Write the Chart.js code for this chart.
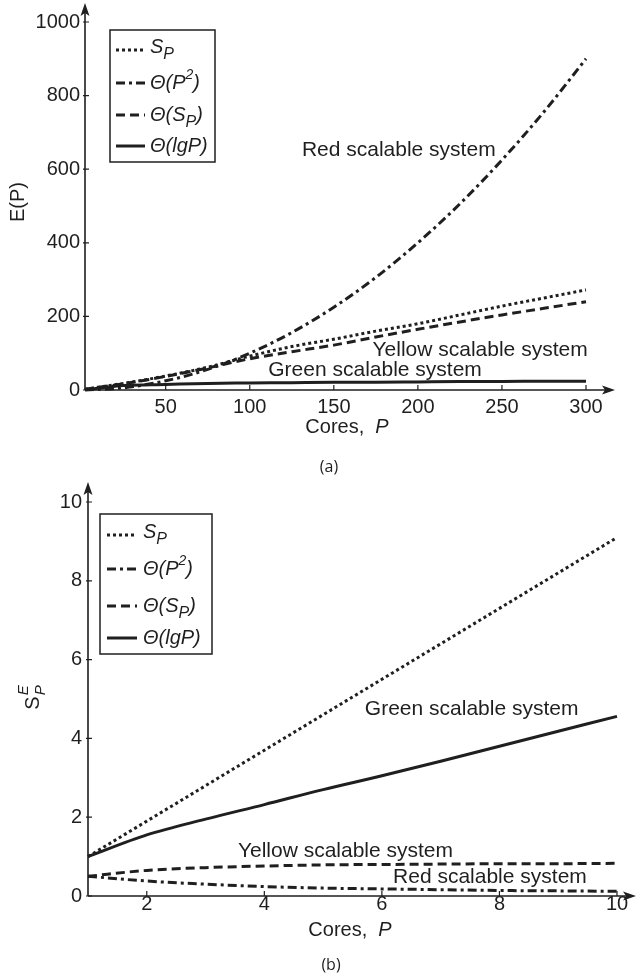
<!DOCTYPE html>
<html><head><meta charset="utf-8">
<script src="https://cdn.jsdelivr.net/npm/chart.js@4.4.1/dist/chart.umd.min.js"></script>
<style>
html,body{margin:0;padding:0;background:#fff;}
#wrap{position:relative;width:637px;height:976px;overflow:hidden;background:#fff}
.box{position:absolute;left:0;width:637px}
</style></head><body>
<div id="wrap">
<div class="box" style="top:0;height:480px"><canvas id="ca" width="637" height="480"></canvas></div>
<div class="box" style="top:480px;height:496px"><canvas id="cb" width="637" height="496"></canvas></div>
</div>
<script>
// ---------- data (a) ----------
const P_A      = [2, 25, 50, 75, 100, 125, 150, 175, 200, 225, 250, 275, 300];
const SP_A     = [2, 18, 38, 62, 92, 118, 138, 160, 180, 204, 228, 250, 272];
const THP2_A   = [0, 6, 25, 56, 100, 156, 225, 306, 400, 506, 625, 756, 900];
const THSP_A   = [2, 17, 37, 60, 85, 104, 122, 144, 165, 185, 204, 222, 240];
const THLG_A   = [1, 12, 15, 18, 19, 20, 21, 21, 22, 23, 23, 24, 24];
const XTICKS_A = [50, 100, 150, 200, 250, 300];
const YTICKS_A = [0, 200, 400, 600, 800, 1000];
// ---------- data (b) ----------
const P_B      = [1, 2, 3, 4, 5, 6, 7, 8, 9, 10];
const SP_B     = [1.0, 1.9, 2.8, 3.7, 4.6, 5.5, 6.4, 7.3, 8.2, 9.1];
const THP2_B   = [0.5, 0.38, 0.3, 0.24, 0.2, 0.18, 0.16, 0.14, 0.13, 0.12];
const THSP_B   = [0.5, 0.65, 0.72, 0.76, 0.79, 0.8, 0.81, 0.82, 0.82, 0.83];
const THLG_B   = [1.0, 1.55, 1.95, 2.32, 2.7, 3.05, 3.42, 3.8, 4.18, 4.56];
const XTICKS_B = [2, 4, 6, 8, 10];
const YTICKS_B = [0, 2, 4, 6, 8, 10];
// ---------- text ----------
const SERIES = ['S_P', 'Θ(P^2)', 'Θ(S_P)', 'Θ(lgP)'];
const SYSTEMS = ['Red scalable system', 'Yellow scalable system', 'Green scalable system'];

const FONT = "'Liberation Sans', Arial, Helvetica, sans-serif";
const INK = '#1f1f1f';
const DASHES = [[3, 3], [9, 4, 3, 4], [9, 5], []];

Chart.defaults.font.family = FONT;
Chart.defaults.color = INK;

function toPts(xs, ys) { return xs.map((x, i) => ({x: x, y: ys[i]})); }

function parseRich(s) {
  const parts = [];
  let i = 0, buf = '';
  while (i < s.length) {
    const c = s[i];
    if (c === '_' || c === '^') {
      if (buf) parts.push({t: buf}); buf = '';
      parts.push({t: s[i + 1], sub: c === '_', sup: c === '^'});
      i += 2; continue;
    }
    buf += c; i++;
  }
  if (buf) parts.push({t: buf});
  return parts;
}

function drawRich(ctx, parts, x, y, size, italic) {
  ctx.textBaseline = 'middle';
  ctx.textAlign = 'left';
  for (const p of parts) {
    const sz = p.sub ? size - 4 : (p.sup ? size - 6 : size);
    const dy = p.sub ? 8 : (p.sup ? -8 : 0);
    ctx.font = (italic ? 'italic ' : '') + sz + 'px ' + FONT;
    ctx.fillText(p.t, x, y + dy);
    x += ctx.measureText(p.t).width;
  }
}

const decor = {
  id: 'decor',
  afterDraw(chart) {
    const o = chart.options.plugins.decor;
    const ctx = chart.ctx, a = chart.chartArea;
    const xs = chart.scales.x, ys = chart.scales.y;
    ctx.save();
    ctx.strokeStyle = INK; ctx.fillStyle = INK;
    ctx.lineWidth = 1.6; ctx.setLineDash([]);
    const tipY = a.top - o.yArrow, tipX = a.right + o.xArrow;
    ctx.beginPath();
    ctx.moveTo(a.left, a.bottom); ctx.lineTo(a.left, tipY + 8);
    ctx.moveTo(a.left, a.bottom); ctx.lineTo(tipX - 8, a.bottom);
    ctx.stroke();
    ctx.beginPath();
    ctx.moveTo(a.left, tipY); ctx.lineTo(a.left - 4.5, tipY + 13); ctx.lineTo(a.left, tipY + 10); ctx.lineTo(a.left + 4.5, tipY + 13); ctx.closePath();
    ctx.fill();
    ctx.beginPath();
    ctx.moveTo(tipX, a.bottom); ctx.lineTo(tipX - 13, a.bottom - 4.5); ctx.lineTo(tipX - 10, a.bottom); ctx.lineTo(tipX - 13, a.bottom + 4.5); ctx.closePath();
    ctx.fill();
    ctx.lineWidth = 1.2;
    ctx.beginPath();
    for (const t of xs.ticks) { const px = xs.getPixelForValue(t.value); ctx.moveTo(px, a.bottom); ctx.lineTo(px, a.bottom - 5); }
    for (const t of ys.ticks) { const py = ys.getPixelForValue(t.value); ctx.moveTo(a.left - 2, py); ctx.lineTo(a.left + 4, py); }
    ctx.stroke();
    const L = o.legend;
    ctx.lineWidth = 1.5;
    ctx.strokeRect(a.left + L.x, a.top + L.y, L.w, L.h);
    chart.data.datasets.forEach((ds, i) => {
      const ry = a.top + L.rows[i];
      ctx.lineWidth = 3; ctx.lineCap = 'butt';
      ctx.setLineDash(ds.borderDash || []);
      ctx.beginPath(); ctx.moveTo(a.left + L.lx0, ry); ctx.lineTo(a.left + L.lx1, ry); ctx.stroke();
      ctx.setLineDash([]);
      drawRich(ctx, parseRich(ds.label), a.left + L.tx, ry + (i === 0 ? -3 : 0), 20, true);
    });
    ctx.font = '21px ' + FONT; ctx.textAlign = 'left'; ctx.textBaseline = 'middle';
    for (const n of o.notes) {
      ctx.fillText(n.text, xs.getPixelForValue(n.x), ys.getPixelForValue(n.y));
    }
    ctx.font = '20px ' + FONT;
    const w1 = ctx.measureText('Cores,  ').width;
    ctx.font = 'italic 20px ' + FONT;
    const w2 = ctx.measureText('P').width;
    let x0 = o.xTitle.x - (w1 + w2) / 2;
    ctx.font = '20px ' + FONT; ctx.fillText('Cores,  ', x0, o.xTitle.y);
    ctx.font = 'italic 20px ' + FONT; ctx.fillText('P', x0 + w1, o.xTitle.y);
    ctx.save();
    ctx.translate(o.yTitle.x, o.yTitle.y); ctx.rotate(-Math.PI / 2);
    if (o.yTitle.kind === 'E') {
      ctx.font = '20px ' + FONT; ctx.textAlign = 'center'; ctx.fillText('E(P)', 0, 0);
    } else {
      ctx.font = '20px ' + FONT;
      const ws = ctx.measureText('S').width;
      ctx.font = 'italic 15px ' + FONT;
      const we = Math.max(ctx.measureText('E').width, ctx.measureText('P').width);
      const sx = -(ws + we) / 2;
      ctx.font = '20px ' + FONT; ctx.textAlign = 'left'; ctx.fillText('S', sx, 0);
      ctx.font = 'italic 15px ' + FONT;
      ctx.fillText('E', sx + ws + 1, -9);
      ctx.fillText('P', sx + ws + 1, 8);
    }
    ctx.restore();
    ctx.font = "16px 'Open Sans', " + FONT; ctx.textAlign = 'center'; ctx.textBaseline = 'middle';
    ctx.fillText(o.caption.text, o.caption.x, o.caption.y);
    ctx.restore();
  }
};

function datasets(P, arrs) {
  return arrs.map((arr, i) => ({
    label: SERIES[i],
    data: toPts(P, arr),
    borderColor: INK,
    borderWidth: 3,
    borderDash: DASHES[i],
    borderCapStyle: 'butt',
    pointRadius: 0,
    fill: false,
    cubicInterpolationMode: 'monotone',
    clip: 6
  }));
}

function makeChart(id, P, arrs, cfg) {
  return new Chart(document.getElementById(id), {
    type: 'line',
    data: {datasets: datasets(P, arrs)},
    options: {
      responsive: false, animation: false, devicePixelRatio: 1,
      layout: {padding: {left: 0, right: cfg.padRight, top: cfg.padTop, bottom: 0}},
      plugins: {legend: {display: false}, tooltip: {enabled: false}, decor: cfg.decor},
      scales: {
        x: {
          type: 'linear', min: cfg.xmin, max: cfg.xmax,
          grid: {display: false, drawTicks: false}, border: {display: false},
          ticks: {font: {size: 20}, color: INK, padding: cfg.xPad, maxRotation: 0, autoSkip: false, callback: v => String(v)},
          afterBuildTicks: s => { s.ticks = cfg.xticks.map(v => ({value: v})); },
          afterFit: s => { s.height = cfg.xH; s.paddingLeft = 0; s.paddingRight = 0; }
        },
        y: {
          type: 'linear', min: cfg.ymin, max: cfg.ymax,
          grid: {display: false, drawTicks: false}, border: {display: false},
          ticks: {font: {size: 20}, color: INK, padding: cfg.yPad, autoSkip: false, callback: v => String(v)},
          afterBuildTicks: s => { s.ticks = cfg.yticks.map(v => ({value: v})); },
          afterFit: s => { s.width = cfg.yW; s.paddingTop = 0; s.paddingBottom = 0; }
        }
      }
    },
    plugins: [decor]
  });
}

makeChart('ca', P_A, [SP_A, THP2_A, THSP_A, THLG_A], {
  xmin: 2, xmax: 300, ymin: 0, ymax: 1000, xticks: XTICKS_A, yticks: YTICKS_A,
  padRight: 51, padTop: 22, yW: 85, xH: 90, xPad: 5, yPad: 5,
  decor: {
    yArrow: 19, xArrow: 29,
    legend: {x: 25, y: 8, w: 105, h: 132, lx0: 31, lx1: 60, tx: 65, rows: [28, 61, 93, 124]},
    notes: [
      {text: SYSTEMS[0], x: 131, y: 652},
      {text: SYSTEMS[1], x: 173, y: 109},
      {text: SYSTEMS[2], x: 111, y: 54}
    ],
    xTitle: {x: 347, y: 427}, yTitle: {x: 18, y: 202, kind: 'E'},
    caption: {text: '(a)', x: 329, y: 467}
  }
});

makeChart('cb', P_B, [SP_B, THP2_B, THSP_B, THLG_B], {
  xmin: 1, xmax: 10, ymin: 0, ymax: 10, xticks: XTICKS_B, yticks: YTICKS_B,
  padRight: 20, padTop: 22, yW: 88, xH: 80, xPad: -4, yPad: 6,
  decor: {
    yArrow: 20, xArrow: 19,
    legend: {x: 12, y: 12, w: 112, h: 140, lx0: 19, lx1: 49, tx: 55, rows: [33, 67, 104, 136]},
    notes: [
      {text: SYSTEMS[2], x: 5.71, y: 4.75},
      {text: SYSTEMS[1], x: 3.55, y: 1.14},
      {text: SYSTEMS[0], x: 6.19, y: 0.48}
    ],
    xTitle: {x: 350, y: 450}, yTitle: {x: 33, y: 218, kind: 'S'},
    caption: {text: '(b)', x: 331, y: 485}
  }
});
</script>
</body></html>
